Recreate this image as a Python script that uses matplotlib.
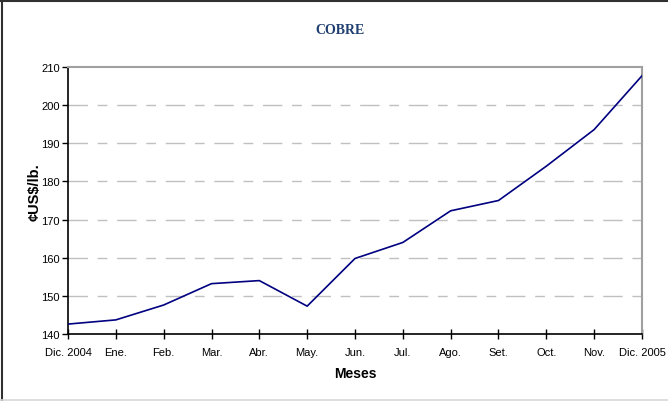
import matplotlib
matplotlib.use("Agg")
import matplotlib.pyplot as plt
from matplotlib.lines import Line2D

months = ["Dic. 2004", "Ene.", "Feb.", "Mar.", "Abr.", "May.", "Jun.", "Jul.",
          "Ago.", "Set.", "Oct.", "Nov.", "Dic. 2005"]
prices = [142.6, 143.7, 147.6, 153.2, 154.0, 147.3, 159.8, 164.0,
          172.3, 175.0, 184.0, 193.6, 207.7]
yticks = [140, 150, 160, 170, 180, 190, 200, 210]

plt.rcParams['font.family'] = ['Liberation Sans', 'DejaVu Sans']

fig = plt.figure(figsize=(6.68, 4.02), dpi=100)
ax = fig.add_axes([68/668, 1 - 335/402, (642-68)/668, (335-68)/402])

x = list(range(len(months)))
ax.plot(x, prices, color='#000080', lw=1.2, zorder=3)

ax.set_xlim(0, len(months) - 1)
ax.set_ylim(140, 210)
ax.set_yticks(yticks)
ax.set_xticks(x)
ax.set_xticklabels(months)
for yv in yticks[1:-1]:
    ax.axhline(yv, color='#c0c0c0', lw=1, dashes=(14, 7, 7, 7), zorder=1)

ax.tick_params(axis='y', direction='out', length=4, width=1, labelsize=8, pad=2)
ax.tick_params(axis='x', direction='inout', length=7, width=1, labelsize=8, pad=6)

ax.spines['left'].set_color('black')
ax.spines['bottom'].set_color('black')
ax.spines['left'].set_linewidth(1.2)
ax.spines['bottom'].set_linewidth(1.2)
ax.spines['top'].set_color('#a0a0a0')
ax.spines['right'].set_color('#a0a0a0')
ax.spines['top'].set_linewidth(1.5)
ax.spines['right'].set_linewidth(1.5)

ax.set_ylabel("¢US$/lb.", fontsize=10.5, fontweight='bold')
ax.yaxis.set_label_coords((42 - 68) / 574, 0.535)
ax.set_xlabel("Meses", fontsize=10, fontweight='bold', labelpad=6)
fig.text(340/668, 1 - 30/402, "COBRE", ha='center', va='center', fontsize=10,
         fontweight='bold', family='Liberation Serif', color='#1f3f70')

# outer frame
fig.add_artist(Line2D([1.5/668, 1.5/668], [0, 1 - 1.5/402], transform=fig.transFigure,
                      color='#303030', lw=1.5))
fig.add_artist(Line2D([0, 1], [1 - 1.5/402, 1 - 1.5/402], transform=fig.transFigure,
                      color='#303030', lw=1.5))
fig.add_artist(Line2D([0, 1], [1.5/402, 1.5/402], transform=fig.transFigure,
                      color='#d8d8d8', lw=1.2))

fig.savefig("out.png", dpi=100)
